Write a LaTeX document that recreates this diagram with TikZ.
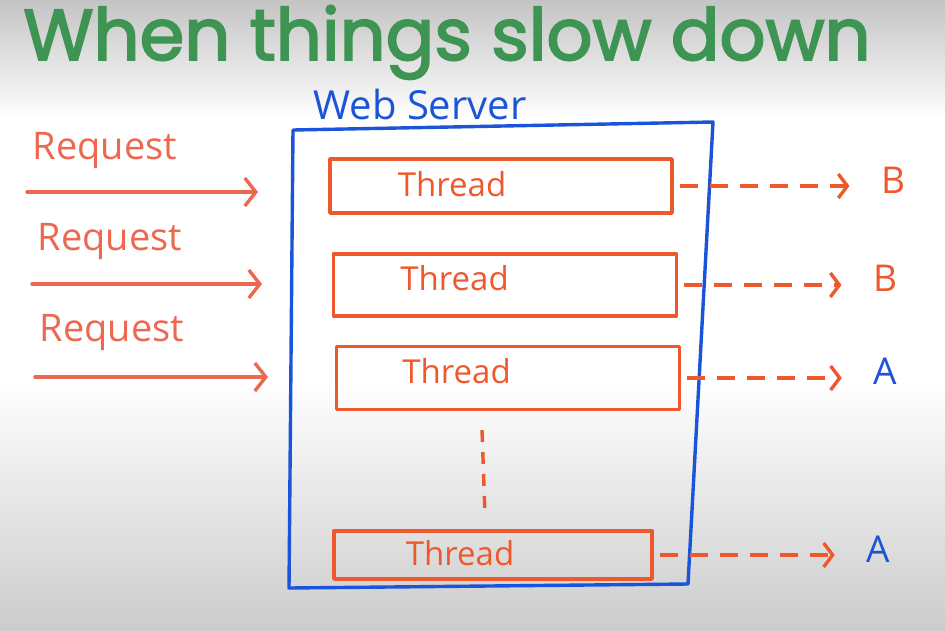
\documentclass[tikz,border=0pt]{standalone}
\usepackage{fontspec}
\setmainfont{Open Sans}
\newfontfamily\titlefont[FakeBold=2.5]{Poppins}
\usetikzlibrary{arrows.meta, positioning}
\definecolor{titleGreen}{RGB}{62,148,82}
\definecolor{penRed}{RGB}{238,88,44}
\definecolor{penSoft}{RGB}{236,104,78}
\definecolor{penBlue}{RGB}{26,84,216}
\definecolor{bgTop}{RGB}{196,196,196}
\definecolor{bgBottom}{RGB}{204,204,204}
\tikzset{
  pen/.style = {line width=3.4pt, line cap=round, line join=round},
  threadbox/.style = {rectangle, draw=penRed, pen, inner sep=0pt},
  threadtext/.style = {anchor=west, text=penRed, font=\fontsize{33}{36}\selectfont},
  reqtext/.style = {text=penSoft, font=\fontsize{38}{40}\selectfont},
  reqarrow/.style = {penSoft, pen, -{Straight Barb[length=11pt, width=28pt, line width=3.4pt]}},
  resultarrow/.style = {penRed, pen, line cap=butt, dash pattern=on 18pt off 12pt,
    -{Straight Barb[length=9pt, width=24pt, line width=3.4pt]}, shorten >=28pt, shorten <=6pt},
  result/.style = {font=\fontsize{37}{38}\selectfont},
}
\begin{document}
\begin{tikzpicture}[x=1pt, y=-1pt]
  \useasboundingbox (0,0) rectangle (945,630);
  % background
  \fill[white] (0,0) rectangle (945,630);
  \shade[top color=bgTop, bottom color=white] (0,0) rectangle (945,120);
  \shade[top color=white, bottom color=bgBottom] (0,380) rectangle (945,630);

  % title
  \node[anchor=base, text=titleGreen, font=\titlefont\fontsize{72}{76}\selectfont] (title) at (447,60) {When things slow down};

  % web server
  \node[text=penBlue, font=\fontsize{40}{42}\selectfont] (ws) at (420,104) {Web Server};
  \coordinate (s1) at (293,130);
  \coordinate (s2) at (713,122);
  \coordinate (s3) at (688,584);
  \coordinate (s4) at (289,588);
  \draw[penBlue, pen] (s1) -- (s2) -- (s3) -- (s4) -- cycle;

  % threads
  \node[threadbox, minimum width=342pt, minimum height=54pt] (t1) at (501,186) {};
  \node[threadbox, minimum width=343pt, minimum height=62pt] (t2) at (505,285) {};
  \node[threadbox, minimum width=343pt, minimum height=63pt] (t3) at (508,378) {};
  \node[threadbox, minimum width=318pt, minimum height=48pt] (t4) at (493,555) {};
  \node[threadtext] (l1) at ([xshift=66pt, yshift=2pt]t1.west) {Thread};
  \node[threadtext] (l2) at ([xshift=65pt, yshift=7pt]t2.west) {Thread};
  \node[threadtext] (l3) at ([xshift=64pt, yshift=7pt]t3.west) {Thread};
  \node[threadtext] (l4) at ([xshift=70pt, yshift=2pt]t4.west) {Thread};

  % more threads
  \coordinate (d1) at (482,430);
  \coordinate (d2) at (485,515);
  \draw[penRed, pen, line cap=butt, dash pattern=on 12pt off 10pt] (d1) -- (d2);

  % results
  \node[result, text=penRed] (r1) at (893,180) {B};
  \node[result, text=penRed] (r2) at (885,278) {B};
  \node[result, text=penBlue] (r3) at (885,371) {A};
  \node[result, text=penBlue] (r4) at (878,549) {A};
  \draw[resultarrow] (t1.east) -- (t1.east -| r1.west);
  \draw[resultarrow] (t2.east) -- (t2.east -| r2.west);
  \draw[resultarrow] (t3.east) -- (t3.east -| r3.west);
  \draw[resultarrow] (t4.east) -- (t4.east -| r4.west);

  % requests
  \node[reqtext] (q1) at (105,150) {Request};
  \node[reqtext] (q2) at (110,241) {Request};
  \node[reqtext] (q3) at (112,332) {Request};
  \coordinate (a1) at (27,192);  \coordinate (b1) at (258,192);
  \coordinate (a2) at (32,284);  \coordinate (b2) at (262,284);
  \coordinate (a3) at (35,377);  \coordinate (b3) at (268,377);
  \foreach \i in {1,2,3}
    \draw[reqarrow] (a\i) -- (b\i);
\end{tikzpicture}
\end{document}
